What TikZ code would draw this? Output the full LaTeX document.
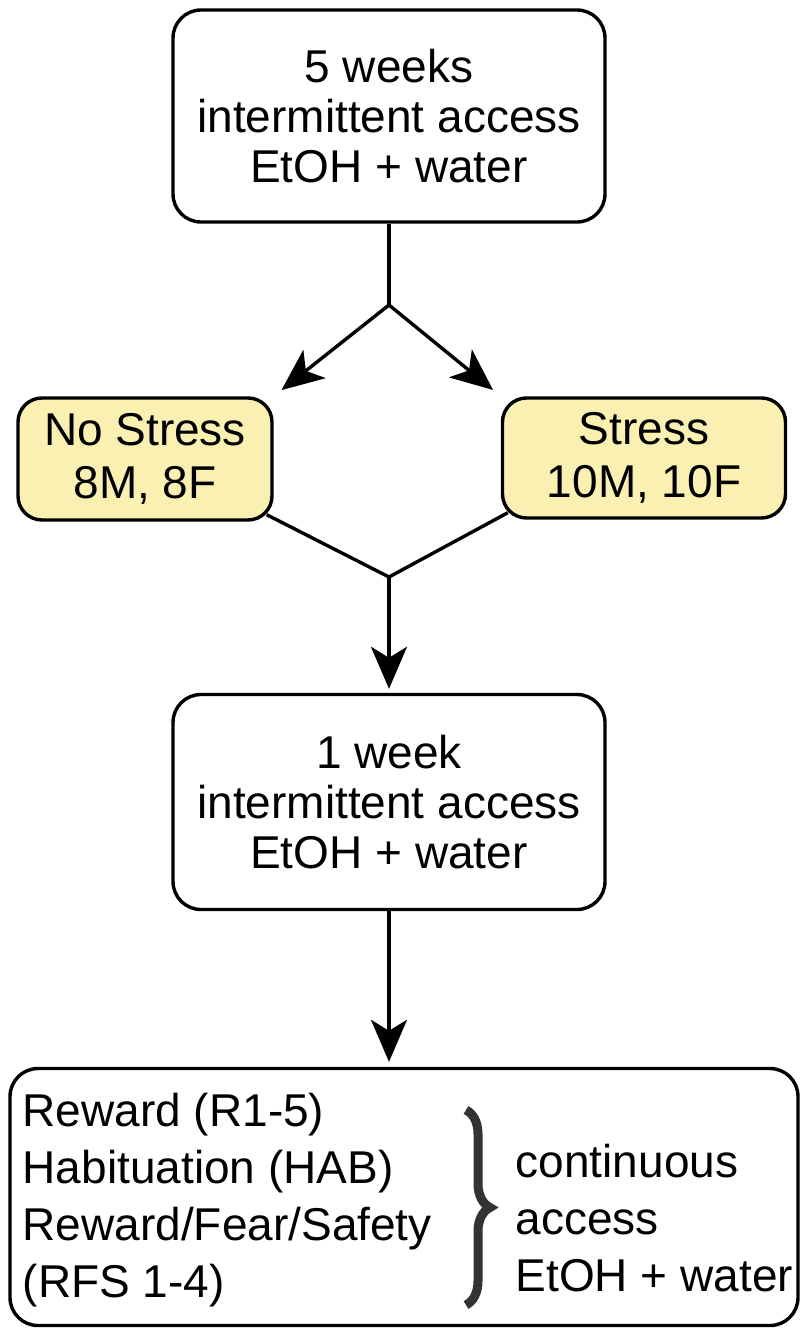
\documentclass[tikz,border=0pt]{standalone}
\usepackage{fontspec}
\setmainfont{Liberation Sans}
\usetikzlibrary{arrows.meta,calc,decorations.pathreplacing}
\definecolor{paleyellow}{RGB}{250,240,178}

\begin{document}
\begin{tikzpicture}[x=1pt,y=-1pt,line width=3.4pt,
    stepbox/.style={draw,rounded corners=28pt,fill=white,align=center,inner sep=0pt,
        font=\fontsize{46}{50}\selectfont},
    groupbox/.style={draw,rounded corners=24pt,fill=paleyellow,align=center,inner sep=0pt,
        font=\fontsize{46}{53}\selectfont},
    listtext/.style={anchor=west,align=left,inner sep=0pt,font=\fontsize{46}{57}\selectfont},
    flow/.style={-{Stealth[length=42pt,width=36pt,inset=11pt]}}]
    \useasboundingbox (0,0) rectangle (801,1328);

    % drinking before the split
    \node[stepbox,minimum width=432pt,minimum height=212pt] (induction) at (389,116)
        {5 weeks\\intermittent access\\EtOH + water};
    \coordinate (split) at (389,305);

    % groups
    \node[groupbox,minimum width=254pt,minimum height=122pt] (nostress) at (145,459) {No Stress\\8M, 8F};
    \node[groupbox,minimum width=283pt,minimum height=120pt] (stress) at (644,458) {Stress\\10M, 10F};
    \coordinate (merge) at (389,577);

    % drinking after the split
    \node[stepbox,minimum width=432pt,minimum height=215pt] (week) at (389,802)
        {1 week\\intermittent access\\EtOH + water};

    % test phases
    \node[draw,rounded corners=28pt,minimum width=788pt,minimum height=257pt] (tests) at (404,1197) {};
    \node[listtext] (phases) at (21,1200) {Reward (R1-5)\\Habituation (HAB)\\Reward/Fear/Safety\\(RFS 1-4)};
    \node[listtext] (access) at (514,1218) {continuous\\access\\EtOH + water};
    \coordinate (btop) at (466,1110);
    \coordinate (bbot) at (466,1305);
    \draw[decorate,decoration={brace,amplitude=24pt},line width=9pt,black!80] (btop) -- (bbot);

    % connectors
    \draw (induction.south) -- (split);
    \draw[flow,shorten >=10pt] (split) -- (nostress.north east);
    \draw[flow,shorten >=10pt] (split) -- (stress.north west);
    \draw ($(nostress.south east)+(-7,-7)$) -- (merge) -- ($(stress.south west)+(7,-7)$);
    \draw[flow,shorten >=4pt] (merge) -- (week.north);
    \draw[flow,shorten >=5pt] (week.south) -- (week.south |- tests.north);
\end{tikzpicture}
\end{document}
